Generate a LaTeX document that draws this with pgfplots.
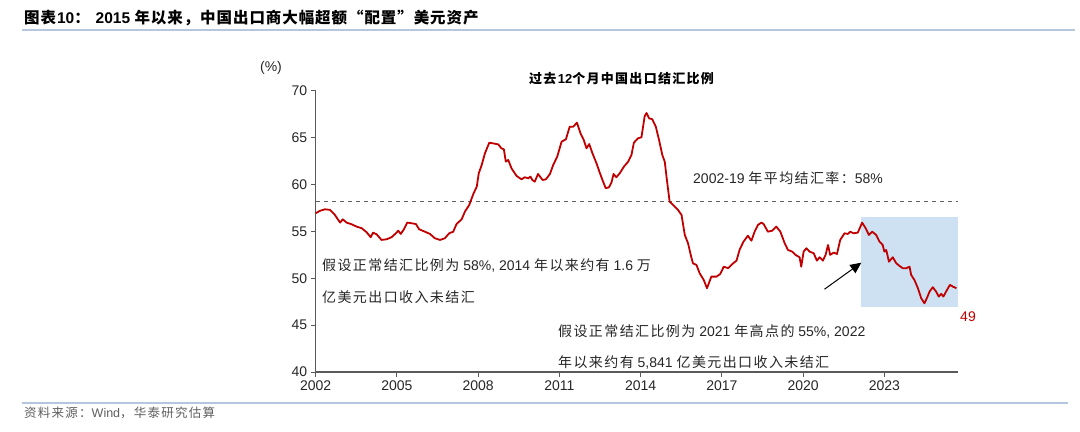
\documentclass[border=0pt]{standalone}
\usepackage{pgfplots}
\pgfplotsset{compat=1.18}
\usetikzlibrary{arrows.meta}
\usepackage{fontspec}
\setmainfont{Liberation Sans}
\newfontfamily\cjk[LetterSpace=10]{Noto Sans CJK SC}
\newfontfamily\cjkt[LetterSpace=6]{Noto Sans CJK SC}
\definecolor{lred}{RGB}{192,0,0}
\definecolor{boxblue}{RGB}{206,225,242}
\definecolor{txt}{RGB}{38,38,38}
\definecolor{axgray}{RGB}{90,90,90}
\definecolor{rulecol}{RGB}{180,199,220}
\definecolor{dgray}{RGB}{95,95,95}

\pgfplotstableread{
x y
2002.00 56.95
2002.15 57.20
2002.34 57.37
2002.53 57.31
2002.71 56.77
2002.90 55.95
2003.00 56.30
2003.14 55.95
2003.33 55.77
2003.51 55.52
2003.70 55.35
2003.88 54.92
2004.03 54.39
2004.12 54.88
2004.25 54.70
2004.43 54.10
2004.62 54.17
2004.80 54.39
2004.96 54.81
2005.05 55.09
2005.14 54.74
2005.26 55.24
2005.38 55.95
2005.54 55.88
2005.70 55.80
2005.82 55.24
2006.03 54.98
2006.22 54.74
2006.40 54.28
2006.59 54.10
2006.77 54.28
2006.93 54.81
2007.08 54.98
2007.20 55.80
2007.39 56.30
2007.51 57.12
2007.67 57.83
2007.82 59.00
2007.95 59.80
2008.02 61.20
2008.13 62.10
2008.25 63.35
2008.41 64.48
2008.55 64.41
2008.74 64.30
2008.86 63.88
2008.95 63.77
2009.02 62.46
2009.11 62.64
2009.23 61.75
2009.42 60.93
2009.60 60.57
2009.72 60.79
2009.85 60.68
2009.93 60.86
2010.00 60.50
2010.09 60.32
2010.21 61.14
2010.38 60.50
2010.50 60.57
2010.65 61.14
2010.77 62.10
2010.92 62.99
2011.08 64.59
2011.24 64.84
2011.38 66.19
2011.51 66.19
2011.65 66.62
2011.78 65.48
2011.90 64.77
2012.00 63.88
2012.10 64.34
2012.22 63.35
2012.37 62.28
2012.49 61.28
2012.59 60.50
2012.71 59.62
2012.83 59.72
2012.92 60.21
2013.00 61.14
2013.10 60.79
2013.23 61.22
2013.38 61.92
2013.54 62.46
2013.66 63.17
2013.75 64.48
2013.90 64.95
2014.03 65.06
2014.15 67.33
2014.22 67.65
2014.31 67.09
2014.43 66.98
2014.56 66.19
2014.68 64.77
2014.80 63.17
2014.89 62.46
2014.97 60.50
2015.07 58.19
2015.20 57.83
2015.38 57.30
2015.51 56.77
2015.63 54.63
2015.75 53.75
2015.85 52.50
2015.93 51.61
2016.06 51.43
2016.18 50.54
2016.33 49.83
2016.45 48.94
2016.61 50.18
2016.80 50.18
2016.94 50.47
2017.07 51.25
2017.23 51.08
2017.39 51.54
2017.54 51.89
2017.66 53.10
2017.80 53.92
2017.96 54.55
2018.09 54.02
2018.21 54.98
2018.33 55.70
2018.46 55.95
2018.54 55.80
2018.70 54.98
2018.86 55.09
2019.01 55.52
2019.16 54.98
2019.32 53.74
2019.44 53.03
2019.60 52.85
2019.72 52.50
2019.87 52.25
2019.93 51.25
2020.02 52.85
2020.12 53.21
2020.24 52.85
2020.39 52.68
2020.51 51.89
2020.61 52.25
2020.73 51.89
2020.83 52.50
2020.92 53.56
2021.00 52.50
2021.13 52.75
2021.25 52.60
2021.37 54.10
2021.53 54.81
2021.65 54.74
2021.74 54.98
2021.86 54.81
2022.02 54.88
2022.18 55.95
2022.31 55.35
2022.43 54.63
2022.55 54.98
2022.70 54.63
2022.82 53.92
2022.94 53.56
2023.00 52.85
2023.07 53.03
2023.17 51.78
2023.31 52.25
2023.44 51.61
2023.56 51.32
2023.68 51.08
2023.81 51.08
2023.93 51.25
2023.99 50.36
2024.11 49.83
2024.24 48.94
2024.36 47.88
2024.48 47.34
2024.57 47.88
2024.67 48.59
2024.79 49.05
2024.91 48.59
2025.01 48.05
2025.10 48.34
2025.18 48.05
2025.28 48.59
2025.42 49.30
2025.53 49.12
2025.66 48.94
}\ratio

\begin{document}
\begin{tikzpicture}
\useasboundingbox (0bp,0bp) rectangle (1080bp,432bp);
% title and rules
\node[anchor=west, inner sep=0pt, text=black, font=\fontsize{15.5bp}{18bp}\selectfont] at (24bp,414.5bp)
  {{\cjkt\bfseries 图表}\textbf{10}{\cjkt\bfseries ：}\hspace{5bp}\textbf{2015} {\cjkt\bfseries 年以来，中国出口商大幅超额“配置”美元资产}};
\draw[rulecol, line width=1.3bp] (22bp,402bp) -- (1075bp,402bp);
\draw[rulecol, line width=1.3bp] (22bp,29bp) -- (1068bp,29bp);
\node[anchor=west, inner sep=0pt, text=dgray, font=\fontsize{12.5bp}{15bp}\selectfont] at (24bp,19bp)
  {{\cjk 资料来源：}Wind{\cjk ，华泰研究估算}};

\begin{axis}[
  at={(315.7bp,60bp)}, anchor=south west,
  scale only axis, width=642.3bp, height=281bp,
  xmin=2002, xmax=2025.72, ymin=40, ymax=70,
  axis x line*=bottom, axis y line*=left,
  axis line style={axgray, line width=1.3bp, -},
  xtick={2002,2005,2008,2011,2014,2017,2020,2023},
  ytick={40,45,50,55,60,65,70},
  tick align=outside, major tick length=5bp,
  tick style={axgray, line width=1bp},
  /pgf/number format/1000 sep={},
  /pgf/number format/assume math mode=true,
  tick label style={text=txt, font=\fontsize{14bp}{16bp}\selectfont},
  clip=false,
]
\fill[boxblue] (axis cs:2022.15,46.92) rectangle (axis cs:2025.72,56.52);
\draw[dgray, line width=1.5bp, dash pattern=on 4.5bp off 3.5bp] (axis cs:2002,58.2) -- (axis cs:2025.72,58.2);
\addplot[lred, line width=1.8bp, line join=round] table[x=x,y=y] {\ratio};
\draw[black, line width=1bp, -{Triangle[length=11bp,width=10bp]}] (axis cs:2020.79,48.84) -- (axis cs:2022.15,51.67);
\end{axis}

\node[text=txt, font=\fontsize{14bp}{16bp}\selectfont] at (271bp,364bp) {(\%)};
\node[anchor=west, inner sep=0pt, text=black, font=\fontsize{13bp}{15bp}\selectfont] at (529bp,353bp)
  {{\cjk\bfseries 过去}\textbf{12}{\cjk\bfseries 个月中国出口结汇比例}};
\node[anchor=west, inner sep=0pt, text=txt, font=\fontsize{14bp}{16bp}\selectfont] at (693bp,254bp)
  {2002-19 {\cjk 年平均结汇率：}58\%};
\node[anchor=west, inner sep=0pt, text=txt, font=\fontsize{14bp}{16bp}\selectfont] at (322bp,167bp)
  {{\cjk 假设正常结汇比例为} 58\%, 2014 {\cjk 年以来约有} 1.6 {\cjk 万}};
\node[anchor=west, inner sep=0pt, text=txt, font=\fontsize{14bp}{16bp}\selectfont] at (322bp,135bp)
  {{\cjk 亿美元出口收入未结汇}};
\node[anchor=west, inner sep=0pt, text=txt, font=\fontsize{14bp}{16bp}\selectfont] at (558bp,101bp)
  {{\cjk 假设正常结汇比例为} 2021 {\cjk 年高点的} 55\%, 2022};
\node[anchor=west, inner sep=0pt, text=txt, font=\fontsize{14bp}{16bp}\selectfont] at (558bp,70bp)
  {{\cjk 年以来约有} 5,841 {\cjk 亿美元出口收入未结汇}};
\node[text=lred, font=\fontsize{14bp}{16bp}\selectfont] at (968bp,115bp) {49};
\end{tikzpicture}
\end{document}
